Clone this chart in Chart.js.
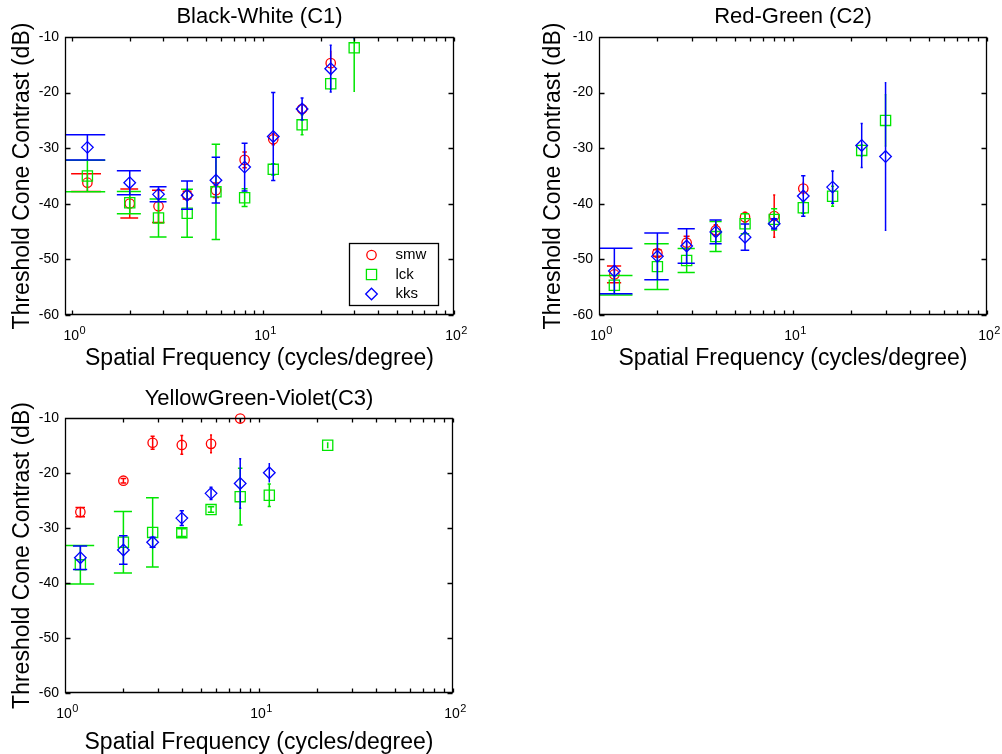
<!DOCTYPE html>
<html><head><meta charset="utf-8">
<script src="https://cdn.jsdelivr.net/npm/chart.js@4.4.1/dist/chart.umd.min.js"></script>
<style>
html,body{margin:0;padding:0;background:#fff;width:1002px;height:754px;overflow:hidden}
canvas{position:absolute}
</style></head><body>
<canvas id="c1" width="470" height="380" style="left:0px;top:0px"></canvas>
<canvas id="c2" width="468" height="380" style="left:534px;top:0px"></canvas>
<canvas id="c3" width="470" height="374" style="left:0px;top:380px"></canvas>
<script>
// ---- data ----
const freqs = [1.2, 2, 2.83, 4, 5.66, 8, 11.3, 16, 22.6, 30];
const seriesNames = ['smw', 'lck', 'kks'];

// Black-White (C1)
const bwSmw    = [-36.2, -39.95, -40.45, -38.45, -37.55, -32.1, -28.4, -22.95, -14.7, null];
const bwSmwErr = [1.6, 2.6, 2.9, 0.7, 1.3, 1.4, 1.0, 0.8, 2.1, null];
const bwLck    = [-35.0, -39.8, -42.55, -41.7, -37.85, -38.9, -33.8, -25.8, -18.4, -11.95];
const bwLckErr = [2.85, 2.0, 3.4, 4.3, 8.55, 1.6, 1.0, 1.8, 1.0, 7.8];
const bwKks    = [-29.85, -36.2, -38.3, -38.45, -35.75, -33.4, -27.9, -22.95, -15.7, -8.0];
const bwKksErr = [2.25, 2.15, 1.35, 2.55, 4.1, 4.3, 7.9, 2.0, 4.2, 2.3];

// Red-Green (C2)
const rgSmw    = [-52.7, -48.85, -47.0, -44.75, -42.4, -42.2, -37.25, null, null, null];
const rgSmwErr = [1.5, 0.6, 1.15, 1.0, 0.9, 3.8, 1.1, null, null, null];
const rgLck    = [-54.65, -51.3, -50.2, -45.9, -43.6, -42.8, -40.7, -38.65, -30.4, -25.0];
const rgLckErr = [1.75, 4.1, 2.15, 2.7, 1.8, 1.9, 1.0, 1.8, 1.0, 4.6];
const rgKks    = [-52.1, -49.45, -47.6, -45.05, -46.0, -43.6, -38.6, -37.0, -29.5, -31.5];
const rgKksErr = [4.1, 4.2, 3.1, 2.15, 2.35, 0.9, 3.65, 2.9, 3.95, 13.25];

// YellowGreen-Violet (C3)
const yvSmw    = [-27.1, -21.4, -14.5, -14.9, -14.7, -10.1, null, null, null, null];
const yvSmwErr = [0.85, 0.4, 1.2, 1.7, 1.6, 0.6, null, null, null, null];
const yvLck    = [-36.7, -32.6, -30.8, -30.85, -26.65, -24.3, -24.05, null, -14.95, null];
const yvLckErr = [3.5, 5.6, 6.3, 0.7, 0.5, 5.15, 2.05, null, 0.4, null];
const yvKks    = [-35.4, -34.0, -32.6, -28.2, -23.7, -21.9, -19.95, null, null, null];
const yvKksErr = [2.15, 2.6, 0.9, 1.35, 1.1, 4.5, 1.65, null, null, null];

const yTickValues = [-60, -50, -40, -30, -20, -10];
const yTickLabels = ['-60', '-50', '-40', '-30', '-20', '-10'];
const xTickValues = [1, 10, 100];
const xTickBase = '10';
const xTickExponents = ['0', '1', '2'];

const titles = ['Black-White (C1)', 'Red-Green (C2)', 'YellowGreen-Violet(C3)'];
const xTitle = 'Spatial Frequency (cycles/degree)';
const yTitle = 'Threshold Cone Contrast (dB)';

// ---- styling ----
const FONT = "'Liberation Sans', Arial, Helvetica, sans-serif";
Chart.defaults.font.family = FONT;
Chart.defaults.color = '#000';
const colors = ['#ff0000', '#00e600', '#0000ff'];
const styles = [
  {pointStyle: 'circle', radius: 4.7},
  {pointStyle: 'rect', radius: 7.2},
  {pointStyle: 'rectRot', radius: 5.8}
];

const minorTicks = [];
for (const d of [1, 10]) for (let k = 1; k < 10; k++) minorTicks.push(k * d);
minorTicks.push(100);

function toPoints(vals, errs) {
  const out = [];
  freqs.forEach((f, i) => { if (vals[i] != null) out.push({x: f, y: vals[i], e: errs[i]}); });
  return out;
}

const errPlugin = {
  id: 'errbars',
  beforeDatasetDraw(chart, args) {
    const ds = chart.data.datasets[args.index];
    const xs = chart.scales.x, ys = chart.scales.y;
    const xv = ds.data.map(p => p.x);
    const tee = (Math.max(...xv) - Math.min(...xv)) / 100;
    const ctx = chart.ctx, a = chart.chartArea;
    ctx.save();
    ctx.beginPath(); ctx.rect(a.left, a.top, a.right - a.left, a.bottom - a.top); ctx.clip();
    ctx.strokeStyle = colors[args.index]; ctx.lineWidth = 1.5;
    ctx.beginPath();
    for (const p of ds.data) {
      if (p.e == null) continue;
      const x = xs.getPixelForValue(p.x);
      const yt = ys.getPixelForValue(p.y + p.e);
      const yb = ys.getPixelForValue(p.y - p.e);
      const xl = xs.getPixelForValue(p.x - tee), xr = xs.getPixelForValue(p.x + tee);
      ctx.moveTo(x, yt); ctx.lineTo(x, yb);
      ctx.moveTo(xl, yt); ctx.lineTo(xr, yt);
      ctx.moveTo(xl, yb); ctx.lineTo(xr, yb);
    }
    ctx.stroke();
    ctx.restore();
  }
};

const framePlugin = {
  id: 'mframe',
  afterDraw(chart) {
    const ctx = chart.ctx, a = chart.chartArea;
    const xs = chart.scales.x, ys = chart.scales.y;
    ctx.save();
    ctx.strokeStyle = '#000'; ctx.lineWidth = 1.3;
    ctx.beginPath();
    const L = Math.round(a.left) + 0.5, R = Math.round(a.right) - 0.5;
    const T = Math.round(a.top) + 0.5, B = Math.round(a.bottom) - 0.5;
    ctx.rect(L, T, R - L, B - T);
    for (const t of xs.ticks) {
      const px = Math.round(xs.getPixelForValue(t.value)) + 0.5;
      if (px < L || px > R + 1) continue;
      ctx.moveTo(px, B); ctx.lineTo(px, B - 4);
      ctx.moveTo(px, T); ctx.lineTo(px, T + 4);
    }
    for (const t of ys.ticks) {
      const py = Math.round(ys.getPixelForValue(t.value)) + 0.5;
      ctx.moveTo(L, py); ctx.lineTo(L + 5, py);
      ctx.moveTo(R, py); ctx.lineTo(R - 5, py);
    }
    ctx.stroke();
    // decade labels with superscript exponent
    ctx.fillStyle = '#000';
    ctx.textBaseline = 'alphabetic';
    xTickValues.forEach((v, k) => {
      const px = xs.getPixelForValue(v);
      const base = xTickBase, ex = xTickExponents[k];
      ctx.font = '14px ' + FONT;
      const wb = ctx.measureText(base).width;
      ctx.font = '11px ' + FONT;
      const we = ctx.measureText(ex).width;
      const x0 = px - (wb + we) / 2 + 2;
      const yb = a.bottom + 25;
      ctx.font = '14px ' + FONT;
      ctx.textAlign = 'left';
      ctx.fillText(base, x0, yb);
      ctx.font = '11px ' + FONT;
      ctx.fillText(ex, x0 + wb + 0.5, yb - 6.5);
    });
    ctx.restore();
  }
};

const legendPlugin = {
  id: 'mlegend',
  afterDraw(chart, args, opts) {
    if (!opts || !opts.show) return;
    const ctx = chart.ctx, a = chart.chartArea;
    const w = opts.width, h = opts.height;
    const x0 = Math.round(a.right - opts.right - w) + 0.5;
    const y0 = Math.round(a.bottom - opts.bottom - h) + 0.5;
    ctx.save();
    ctx.fillStyle = '#fff'; ctx.strokeStyle = '#000'; ctx.lineWidth = 1.3;
    ctx.fillRect(x0, y0, w, h); ctx.strokeRect(x0, y0, w, h);
    chart.data.datasets.forEach((ds, i) => {
      const yy = y0 + opts.rowTop + i * opts.rowGap;
      ctx.strokeStyle = colors[i]; ctx.fillStyle = 'rgba(0,0,0,0)'; ctx.lineWidth = 1.3;
      Chart.helpers.drawPoint(ctx, {pointStyle: ds.pointStyle, radius: ds.pointRadius, borderWidth: 1.3, rotation: 0}, x0 + opts.markerX, yy);
      ctx.fillStyle = '#000';
      ctx.font = opts.fontSize + 'px ' + FONT;
      ctx.textAlign = 'left'; ctx.textBaseline = 'middle';
      ctx.fillText(ds.label, x0 + opts.textX, yy);
    });
    ctx.restore();
  }
};

function makePanel(id, cfg) {
  const datasets = cfg.series.map((s, i) => ({
    label: seriesNames[i],
    data: toPoints(s[0], s[1]),
    borderColor: colors[i],
    backgroundColor: 'rgba(0,0,0,0)',
    pointStyle: styles[i].pointStyle,
    pointRadius: styles[i].radius,
    pointBorderWidth: 1.3,
    pointHoverRadius: styles[i].radius,
    showLine: false,
    clip: cfg.clip,
    order: 3 - i
  }));
  return new Chart(document.getElementById(id), {
    type: 'scatter',
    data: {datasets},
    options: {
      responsive: false, animation: false, devicePixelRatio: 1,
      events: [],
      layout: {padding: {left: 0, right: cfg.padR, top: 0, bottom: 0}},
      plugins: {
        legend: {display: false}, tooltip: {enabled: false},
        title: {display: true, text: cfg.title, color: '#000', fullSize: false,
          font: {family: FONT, size: 22, weight: 'normal', lineHeight: 1.2},
          padding: {top: cfg.titleTop, bottom: cfg.titleBottom}},
        mlegend: cfg.legend || {show: false}
      },
      scales: {
        x: {
          type: 'logarithmic', position: 'bottom', min: cfg.xMin, max: 100,
          grid: {display: false, drawTicks: false}, border: {display: false},
          afterBuildTicks: s => { s.ticks = minorTicks.map(v => ({value: v})); },
          ticks: {autoSkip: false, maxRotation: 0, minRotation: 0, padding: 12, color: '#000',
            font: {family: FONT, size: 14},
            callback: () => ''},
          afterFit: s => { s.height = cfg.xAxisH; },
          title: {display: true, text: xTitle, color: '#000',
            font: {family: FONT, size: 23, lineHeight: 1.2},
            padding: {top: 0, bottom: cfg.xTitlePad}}
        },
        y: {
          type: 'linear', position: 'left', min: -60, max: -10,
          grid: {display: false, drawTicks: false}, border: {display: false},
          afterBuildTicks: s => { s.ticks = yTickValues.map(v => ({value: v})); },
          ticks: {padding: 6, color: '#000', font: {family: FONT, size: 14},
            callback: v => { const k = yTickValues.indexOf(v); return k >= 0 ? yTickLabels[k] : ''; }},
          afterFit: s => { s.width = 65; },
          title: {display: true, text: yTitle, color: '#000',
            font: {family: FONT, size: 23, lineHeight: 1.2},
            padding: {top: cfg.yTitlePad, bottom: 0}}
        }
      }
    },
    plugins: [errPlugin, framePlugin, legendPlugin]
  });
}

makePanel('c1', {
  title: titles[0], xMin: 0.916, padR: 16, titleTop: 3.5, titleBottom: 7.1,
  xAxisH: 65, xTitlePad: 8, yTitlePad: 8.7, clip: undefined,
  series: [[bwSmw, bwSmwErr], [bwLck, bwLckErr], [bwKks, bwKksErr]],
  legend: {show: true, right: 16, bottom: 10, width: 89, height: 62,
    rowTop: 11.5, rowGap: 19.5, markerX: 22, textX: 46, fontSize: 15}
});
makePanel('c2', {
  title: titles[1], xMin: 1, padR: 15, titleTop: 3.5, titleBottom: 7.1,
  xAxisH: 65, xTitlePad: 8, yTitlePad: 6.2, clip: undefined,
  series: [[rgSmw, rgSmwErr], [rgLck, rgLckErr], [rgKks, rgKksErr]]
});
makePanel('c3', {
  title: titles[2], xMin: 1, padR: 17, titleTop: 5.5, titleBottom: 6.1,
  xAxisH: 61, xTitlePad: -2, yTitlePad: 8.7, clip: false,
  series: [[yvSmw, yvSmwErr], [yvLck, yvLckErr], [yvKks, yvKksErr]]
});
</script>
</body></html>
